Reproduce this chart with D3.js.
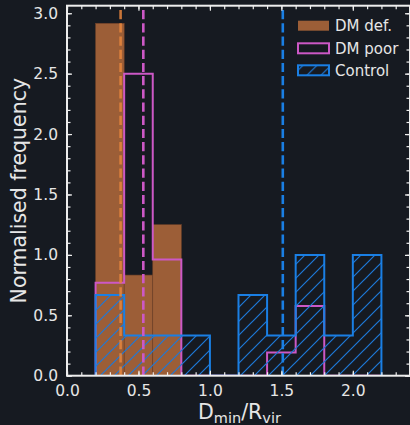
<!DOCTYPE html>
<html>
<head>
<meta charset="utf-8">
<script src="https://cdn.jsdelivr.net/npm/d3@7"></script>
<style>
  html, body { margin: 0; padding: 0; background: #161a21; }
  svg { display: block; }
  text { font-family: "DejaVu Sans", sans-serif; fill: #e6e6e6; }
</style>
</head>
<body>
<svg id="chart" width="410" height="425"></svg>
<script>
// Histogram bin edges (D_min / R_vir)
const binEdges = [0.2, 0.4, 0.6, 0.8, 1.0, 1.2, 1.4, 1.6, 1.8, 2.0, 2.2];
// Normalised frequency per bin for each sample
const dmDef   = [2.917, 0.833, 1.25, 0, 0, 0, 0, 0, 0, 0];
const dmPoor  = [0.769, 2.5, 0.962, 0, 0, 0, 0.192, 0.577, 0, 0];
const control = [0.667, 0.333, 0.333, 0.333, 0, 0.667, 0.333, 1.0, 0.333, 1.0];
// Median D_min / R_vir of each sample
const medianNames  = ["DM def.", "DM poor", "Control"];
const medianValues = [0.375, 0.534, 1.51];
// Axis ticks
const xTicks = [0.0, 0.5, 1.0, 1.5, 2.0];
const yTicks = [0.0, 0.5, 1.0, 1.5, 2.0, 2.5, 3.0];

const colors = {
  def: "#9c5e37",
  defEdge: "#6e4128",
  defLine: "#e8873d",
  poor: "#cc58c6",
  control: "#1a7fe4",
  hatch: "#1c78d8",
  axis: "#eeeeee"
};

const svg = d3.select("#chart");
const plotL = 67, plotR = 410, plotT = 5.7, plotB = 375.7;

const x = d3.scaleLinear().domain([0, 2.4]).range([plotL, plotR]);
const y = d3.scaleLinear().domain([0, 3.0625]).range([plotB, plotT]);

const defs = svg.append("defs");
defs.append("clipPath").attr("id", "plotClip")
  .append("rect").attr("x", plotL).attr("y", plotT)
  .attr("width", plotR - plotL).attr("height", plotB - plotT);

const hatch = defs.append("pattern").attr("id", "hatch")
  .attr("patternUnits", "userSpaceOnUse")
  .attr("width", 14).attr("height", 14);
hatch.append("path")
  .attr("d", "M0,14 L14,0 M-3.5,3.5 L3.5,-3.5 M10.5,17.5 L17.5,10.5")
  .attr("stroke", colors.hatch).attr("stroke-width", 1.2).attr("fill", "none");

const plot = svg.append("g").attr("clip-path", "url(#plotClip)");

// Filled bars: DM deficient
const bins = d3.range(dmDef.length);
plot.append("g").selectAll("rect")
  .data(bins.filter(i => dmDef[i] > 0))
  .join("rect")
  .attr("x", i => x(binEdges[i]))
  .attr("width", i => x(binEdges[i + 1]) - x(binEdges[i]))
  .attr("y", i => y(dmDef[i]))
  .attr("height", i => y(0) - y(dmDef[i]))
  .attr("fill", colors.def)
  .attr("stroke", colors.defEdge)
  .attr("stroke-width", 0.6);

// Step outline of a histogram
function stepPoints(vals) {
  const pts = [[binEdges[0], 0]];
  vals.forEach((v, i) => {
    pts.push([binEdges[i], v]);
    pts.push([binEdges[i + 1], v]);
  });
  pts.push([binEdges[binEdges.length - 1], 0]);
  return pts;
}
const line = d3.line().x(d => x(d[0])).y(d => y(d[1]));

// DM poor: open step outline
plot.append("path")
  .attr("d", line(stepPoints(dmPoor)))
  .attr("fill", "none")
  .attr("stroke", colors.poor)
  .attr("stroke-width", 2)
  .attr("stroke-linejoin", "miter");

// Control: hatched step
const ctrlPts = stepPoints(control);
plot.append("path")
  .attr("d", line(ctrlPts) + "Z")
  .attr("fill", "url(#hatch)")
  .attr("stroke", "none");
plot.append("path")
  .attr("d", line(ctrlPts))
  .attr("fill", "none")
  .attr("stroke", colors.control)
  .attr("stroke-width", 2)
  .attr("stroke-linejoin", "miter");

// Median lines
const medianColors = [colors.defLine, colors.poor, colors.control];
plot.append("g").selectAll("line")
  .data(medianValues)
  .join("line")
  .attr("x1", d => x(d)).attr("x2", d => x(d))
  .attr("y1", y(0)).attr("y2", plotT)
  .attr("stroke", (d, i) => medianColors[i])
  .attr("stroke-width", 2.6)
  .attr("stroke-dasharray", "9.2,4")
  .attr("opacity", (d, i) => i === 0 ? 0.85 : 1);

// Axes: inward ticks on all four sides with minor ticks
const minorX = d3.range(0, 24.01, 1).map(v => v / 10);
const minorY = d3.range(0, 30.01, 1).map(v => v / 10);
const fmt = d3.format(".1f");

function styleAxis(g) {
  g.select(".domain").remove();
  g.selectAll(".tick line").attr("stroke", colors.axis).attr("stroke-width", 1.2);
  g.selectAll(".tick text").attr("fill", "#e6e6e6")
    .style("font-family", "DejaVu Sans").style("font-size", "15.5px");
}

svg.append("g").attr("transform", `translate(0,${plotB})`)
  .call(d3.axisBottom(x).tickValues(minorX).tickSize(-3.5).tickFormat(""))
  .call(styleAxis);
svg.append("g").attr("transform", `translate(0,${plotB})`)
  .call(d3.axisBottom(x).tickValues(xTicks).tickSize(-5).tickPadding(9).tickFormat(fmt))
  .call(styleAxis);
svg.append("g").attr("transform", `translate(0,${plotT})`)
  .call(d3.axisTop(x).tickValues(minorX).tickSize(-3.5).tickFormat(""))
  .call(styleAxis);
svg.append("g").attr("transform", `translate(0,${plotT})`)
  .call(d3.axisTop(x).tickValues(xTicks).tickSize(-5).tickFormat(""))
  .call(styleAxis);
svg.append("g").attr("transform", `translate(${plotL},0)`)
  .call(d3.axisLeft(y).tickValues(minorY).tickSize(-3.5).tickFormat(""))
  .call(styleAxis);
svg.append("g").attr("transform", `translate(${plotL},0)`)
  .call(d3.axisLeft(y).tickValues(yTicks).tickSize(-5).tickPadding(9).tickFormat(fmt))
  .call(styleAxis);
svg.append("g").attr("transform", `translate(${plotR},0)`)
  .call(d3.axisRight(y).tickValues(minorY).tickSize(-3.5).tickFormat(""))
  .call(styleAxis);
svg.append("g").attr("transform", `translate(${plotR},0)`)
  .call(d3.axisRight(y).tickValues(yTicks).tickSize(-5).tickFormat(""))
  .call(styleAxis);

// Frame
svg.append("rect")
  .attr("x", plotL).attr("y", plotT)
  .attr("width", plotR - plotL).attr("height", plotB - plotT)
  .attr("fill", "none").attr("stroke", colors.axis).attr("stroke-width", 2);

// Axis labels
svg.append("text")
  .attr("transform", `translate(26,${(plotT + plotB) / 2}) rotate(-90)`)
  .attr("text-anchor", "middle")
  .style("font-size", "20.5px")
  .text("Normalised frequency");

const xl = svg.append("text")
  .attr("x", (plotL + plotR) / 2 + 1).attr("y", 419)
  .attr("text-anchor", "middle")
  .style("font-size", "20.5px");
xl.append("tspan").text("D");
xl.append("tspan").attr("dy", 4).style("font-size", "14.5px").text("min");
xl.append("tspan").attr("dy", -4).text("/R");
xl.append("tspan").attr("dy", 4).style("font-size", "14.5px").text("vir");

// Legend
const legend = svg.append("g").attr("transform", "translate(298,0)");
const rowY = [25.7, 48.3, 70.3];
const lg = legend.selectAll("g").data(medianNames).join("g")
  .attr("transform", (d, i) => `translate(0,${rowY[i]})`);
lg.append("rect")
  .attr("x", 0).attr("y", -5).attr("width", 31).attr("height", 10)
  .attr("fill", (d, i) => i === 0 ? colors.def : (i === 2 ? "url(#hatch)" : "none"))
  .attr("stroke", (d, i) => i === 0 ? "none" : (i === 1 ? colors.poor : colors.control))
  .attr("stroke-width", 2);
lg.append("text")
  .attr("x", 37).attr("y", 0).attr("dy", "0.35em")
  .style("font-size", "15px")
  .text(d => d);
</script>
</body>
</html>
